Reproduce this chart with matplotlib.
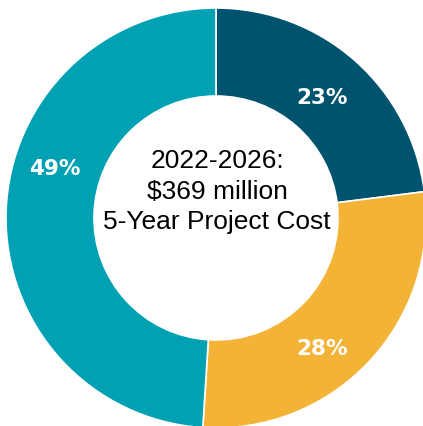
import matplotlib.pyplot as plt

# dati del grafico
quote = [23, 28, 49]
etichette = ['23%', '28%', '49%']
colori = ['#00536E', '#F3B337', '#00A1B3']

# posizione delle etichette (frazioni della figura)
pos_etichette = [(0.761, 0.770), (0.761, 0.181), (0.130, 0.604)]

titolo = '2022-2026:\n$369 million\n5-Year Project Cost'

fig = plt.figure(figsize=(4.23, 4.26), dpi=100)
ax = fig.add_axes([0, 0, 1, 1])

# ciambella: centro e raggio in pixel della figura
ax.pie(quote, colors=colori, startangle=90, counterclock=False,
       center=(216, 426 - 218), radius=210,
       wedgeprops=dict(width=210 - 122, edgecolor='white', linewidth=1.2))
ax.set_xlim(0, 423)
ax.set_ylim(0, 426)
ax.set_aspect('equal')
ax.axis('off')

for testo, (x, y) in zip(etichette, pos_etichette):
    fig.text(x, y, testo, color='white', fontsize=15.5, fontweight='bold',
             family='DejaVu Sans', ha='center', va='center')

fig.text(0.513, 0.550, titolo, fontsize=19, family='Liberation Sans',
         ha='center', va='center', linespacing=1.35)

fig.savefig('out.png', dpi=100)
